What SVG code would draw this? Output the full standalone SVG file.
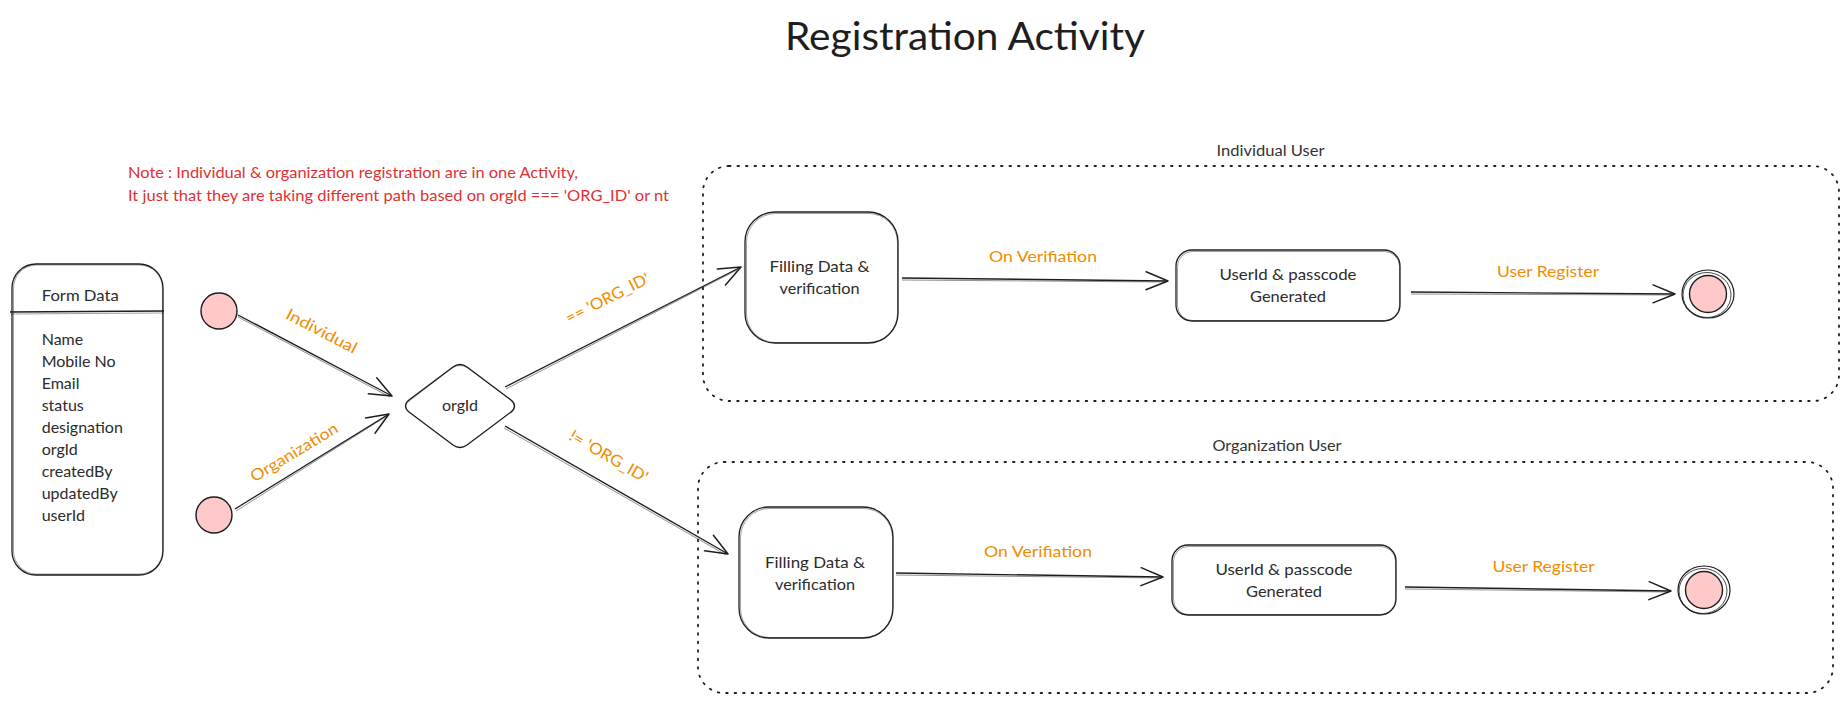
<svg xmlns="http://www.w3.org/2000/svg" width="1848" height="706" viewBox="0 0 1848 706">
<defs>
<style>
text{font-family:Lato,"Noto Sans","Liberation Sans",sans-serif;font-size:16px;fill:#2b2b2b}
.title{font-size:38px;fill:#1e1e1e}
.note{fill:#e03131}
.lbl{fill:#f08c00}
.grp{font-size:15.5px;fill:#333}
.box{fill:none;stroke:#1e1e1e;stroke-width:1.3}
.box2{fill:none;stroke:#1e1e1e;stroke-width:0.6;opacity:0.7}
.start{fill:#ffc9c9;stroke:#1e1e1e;stroke-width:1.4}
.cont{fill:none;stroke:#1e1e1e;stroke-width:1.8;stroke-dasharray:1.5 7;stroke-linecap:round}
.edge{fill:none;stroke:#1e1e1e;stroke-width:1.4}
.edge2{fill:none;stroke:#1e1e1e;stroke-width:0.7;opacity:0.7}
</style>
<marker id="arr" viewBox="-26 -12 28 24" refX="0" refY="0" markerWidth="28" markerHeight="24" markerUnits="userSpaceOnUse" orient="auto">
<path d="M-22,-9 L0,0 L-22,9" fill="none" stroke="#1e1e1e" stroke-width="1.5" stroke-linecap="round" stroke-linejoin="round"/>
</marker>
</defs>
<rect width="1848" height="706" fill="#ffffff"/>

<text class="title" x="965" y="50" text-anchor="middle" textLength="360" lengthAdjust="spacingAndGlyphs">Registration Activity</text>

<g id="note">
<text class="note" x="128" y="178" textLength="450" lengthAdjust="spacingAndGlyphs">Note : Individual &amp; organization registration are in one Activity,</text>
<text class="note" x="128" y="201" textLength="541" lengthAdjust="spacingAndGlyphs">It just that they are taking different path based on orgId === 'ORG_ID' or nt</text>
</g>

<g id="container-individual">
<rect class="cont" x="703" y="166" width="1136" height="235" rx="26"/>
<text class="grp" x="1270.5" y="156" text-anchor="middle" textLength="108" lengthAdjust="spacingAndGlyphs">Individual User</text>
</g>
<g id="container-organization">
<rect class="cont" x="698" y="462" width="1135" height="231" rx="26"/>
<text class="grp" x="1277" y="451" text-anchor="middle" textLength="129" lengthAdjust="spacingAndGlyphs">Organization User</text>
</g>

<g id="form-data">
<rect class="box" x="12" y="264" width="151" height="311" rx="24"/>
<rect class="box2" x="13.5" y="265" width="149" height="309" rx="23"/>
<path class="box" d="M10,312 L164,311"/>
<path class="box2" d="M11,314 L164,313"/>
<text x="41.7" y="301" textLength="77" lengthAdjust="spacingAndGlyphs">Form Data</text>
<text x="41.7" y="345">Name</text>
<text x="41.7" y="367">Mobile No</text>
<text x="41.7" y="389">Email</text>
<text x="41.7" y="411">status</text>
<text x="41.7" y="433">designation</text>
<text x="41.7" y="455">orgId</text>
<text x="41.7" y="477">createdBy</text>
<text x="41.7" y="499">updatedBy</text>
<text x="41.7" y="521">userId</text>
</g>

<g id="start-individual">
<circle class="start" cx="219" cy="311" r="18"/>
</g>
<g id="start-organization">
<circle class="start" cx="214" cy="515" r="18"/>
</g>

<g id="decision-orgId">
<path class="box" d="M409,400 L453,367 Q460,362 467,367 L511,400 Q518,406 511,412 L467,445 Q460,450 453,445 L409,412 Q402,406 409,400 Z"/>
<path class="box2" d="M408,402 L452,368 Q460,363 468,368 L512,401 Q518,407 511,413"/>
<text x="460" y="411" text-anchor="middle">orgId</text>
</g>

<g id="fill-individual">
<rect class="box" x="745" y="212" width="153" height="131" rx="30"/>
<rect class="box2" x="746.5" y="213.5" width="151" height="129" rx="29"/>
<text x="819.5" y="272" text-anchor="middle" textLength="100" lengthAdjust="spacingAndGlyphs">Filling Data &amp;</text>
<text x="819.5" y="294" text-anchor="middle" textLength="80" lengthAdjust="spacingAndGlyphs">verification</text>
</g>
<g id="userid-individual">
<rect class="box" x="1176" y="250" width="224" height="71" rx="16"/>
<rect class="box2" x="1177.5" y="251.5" width="222" height="69" rx="15"/>
<text x="1288" y="280" text-anchor="middle" textLength="137" lengthAdjust="spacingAndGlyphs">UserId &amp; passcode</text>
<text x="1288" y="302" text-anchor="middle" textLength="76" lengthAdjust="spacingAndGlyphs">Generated</text>
</g>
<g id="end-individual">
<ellipse cx="1708" cy="294" rx="26" ry="24" fill="none" stroke="#1e1e1e" stroke-width="1.2"/>
<ellipse cx="1707" cy="295" rx="24" ry="22.5" fill="none" stroke="#1e1e1e" stroke-width="0.8"/>
<circle class="start" cx="1708" cy="294" r="18.5"/>
</g>

<g id="fill-organization">
<rect class="box" x="739" y="507" width="154" height="131" rx="30"/>
<rect class="box2" x="740.5" y="508.5" width="152" height="129" rx="29"/>
<text x="815" y="568" text-anchor="middle" textLength="100" lengthAdjust="spacingAndGlyphs">Filling Data &amp;</text>
<text x="815" y="590" text-anchor="middle" textLength="80" lengthAdjust="spacingAndGlyphs">verification</text>
</g>
<g id="userid-organization">
<rect class="box" x="1172" y="545" width="224" height="70" rx="16"/>
<rect class="box2" x="1173.5" y="546.5" width="222" height="68" rx="15"/>
<text x="1284" y="575" text-anchor="middle" textLength="137" lengthAdjust="spacingAndGlyphs">UserId &amp; passcode</text>
<text x="1284" y="597" text-anchor="middle" textLength="76" lengthAdjust="spacingAndGlyphs">Generated</text>
</g>
<g id="end-organization">
<ellipse cx="1704" cy="590" rx="26" ry="24" fill="none" stroke="#1e1e1e" stroke-width="1.2"/>
<ellipse cx="1703" cy="591" rx="24" ry="22.5" fill="none" stroke="#1e1e1e" stroke-width="0.8"/>
<circle class="start" cx="1704" cy="590" r="18.5"/>
</g>

<g id="connectors">
<path class="edge" d="M238,315 L392,396" marker-end="url(#arr)"/>
<path class="edge2" d="M238,317 L390,397"/>
<path class="edge" d="M235,509 L389,414" marker-end="url(#arr)"/>
<path class="edge2" d="M236,511 L387,416"/>
<path class="edge" d="M505,387 L741,267" marker-end="url(#arr)"/>
<path class="edge2" d="M506,389 L739,269"/>
<path class="edge" d="M505,426 L728,554" marker-end="url(#arr)"/>
<path class="edge2" d="M504,428 L726,555"/>
<path class="edge" d="M902,278 L1168,281" marker-end="url(#arr)"/>
<path class="edge2" d="M902,280 L1166,282"/>
<path class="edge" d="M1411,292 L1675,294" marker-end="url(#arr)"/>
<path class="edge2" d="M1411,294 L1673,295"/>
<path class="edge" d="M896,573 L1163,577" marker-end="url(#arr)"/>
<path class="edge2" d="M896,575 L1161,578"/>
<path class="edge" d="M1405,587 L1671,591" marker-end="url(#arr)"/>
<path class="edge2" d="M1405,589 L1669,592"/>

<text class="lbl" transform="translate(319,336) rotate(27.5)" text-anchor="middle" textLength="78" lengthAdjust="spacingAndGlyphs">Individual</text>
<text class="lbl" transform="translate(297,457) rotate(-31)" text-anchor="middle" textLength="99" lengthAdjust="spacingAndGlyphs">Organization</text>
<text class="lbl" transform="translate(610,303) rotate(-27)" text-anchor="middle" textLength="92" lengthAdjust="spacingAndGlyphs">== 'ORG_ID'</text>
<text class="lbl" transform="translate(606,461) rotate(30)" text-anchor="middle" textLength="88" lengthAdjust="spacingAndGlyphs">!= 'ORG_ID'</text>
<text class="lbl" x="1043" y="262" text-anchor="middle" textLength="108" lengthAdjust="spacingAndGlyphs">On Verifiation</text>
<text class="lbl" x="1548" y="277" text-anchor="middle" textLength="102" lengthAdjust="spacingAndGlyphs">User Register</text>
<text class="lbl" x="1038" y="557" text-anchor="middle" textLength="108" lengthAdjust="spacingAndGlyphs">On Verifiation</text>
<text class="lbl" x="1543.5" y="572" text-anchor="middle" textLength="102" lengthAdjust="spacingAndGlyphs">User Register</text>
</g>
</svg>
